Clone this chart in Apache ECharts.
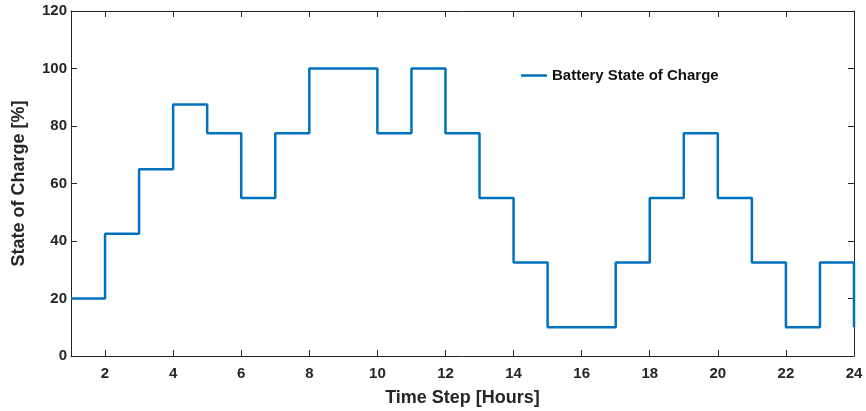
<!DOCTYPE html>
<html>
<head>
<meta charset="utf-8">
<script src="https://cdn.jsdelivr.net/npm/echarts@6/dist/echarts.min.js"></script>
<style>
  html, body { margin: 0; padding: 0; background: #fff; }
  #chart { width: 866px; height: 411px; }
</style>
</head>
<body>
<div id="chart"></div>
<script>
// Hourly battery state of charge, held constant through each hour (stairs)
const hours = [1, 2, 3, 4, 5, 6, 7, 8, 9, 10, 11, 12, 13, 14, 15, 16, 17, 18, 19, 20, 21, 22, 23, 24];
const soc = [20, 42.5, 65, 87.5, 77.5, 55, 77.5, 100, 100, 77.5, 100, 77.5, 55, 32.5, 10, 10, 32.5, 55, 77.5, 55, 32.5, 10, 32.5, 10];
const xTicks = [2, 4, 6, 8, 10, 12, 14, 16, 18, 20, 22, 24];

const ink = '#262626';
const font = '"Liberation Sans", Arial, sans-serif';
const lineBlue = '#0072BD';

const chart = echarts.init(document.getElementById('chart'), null, { renderer: 'canvas' });

const baseX = {
  type: 'value', min: 1, max: 24,
  axisLine: { show: true, onZero: false, lineStyle: { color: ink, width: 1 } },
  axisTick: { show: true, inside: true, length: 6, customValues: xTicks, lineStyle: { color: ink } },
  splitLine: { show: false }
};
const baseY = {
  type: 'value', min: 0, max: 120, interval: 20,
  axisLine: { show: true, onZero: false, lineStyle: { color: ink, width: 1 } },
  axisTick: { show: true, inside: true, length: 6, lineStyle: { color: ink } },
  splitLine: { show: false }
};

chart.setOption({
  animation: false,
  backgroundColor: '#ffffff',
  grid: { left: 71, right: 12, top: 11, bottom: 55, containLabel: false, outerBoundsMode: 'none' },
  legend: {
    data: ['Battery State of Charge'],
    left: 516, top: 63,
    icon: 'rect', itemWidth: 26, itemHeight: 2.5,
    textStyle: { fontFamily: font, fontWeight: 'bold', fontSize: 15, color: '#111' }
  },
  xAxis: [
    Object.assign({}, baseX, {
      position: 'bottom',
      name: 'Time Step [Hours]', nameLocation: 'middle', nameGap: 33,
      nameTextStyle: { fontFamily: font, fontWeight: 'bold', fontSize: 18, color: ink },
      axisLabel: { show: true, customValues: xTicks, margin: 10, fontFamily: font, fontWeight: 'bold', fontSize: 15, color: ink }
    }),
    Object.assign({}, baseX, {
      position: 'top',
      axisLabel: { show: false }
    })
  ],
  yAxis: [
    Object.assign({}, baseY, {
      position: 'left',
      name: 'State of Charge [%]', nameLocation: 'middle', nameGap: 43,
      nameTextStyle: { fontFamily: font, fontWeight: 'bold', fontSize: 18, color: ink },
      axisLabel: { show: true, margin: 4, fontFamily: font, fontWeight: 'bold', fontSize: 15, color: ink }
    }),
    Object.assign({}, baseY, {
      position: 'right',
      axisLabel: { show: false }
    })
  ],
  series: [{
    name: 'Battery State of Charge',
    type: 'line',
    step: 'end',
    xAxisIndex: 0, yAxisIndex: 0,
    data: hours.map((h, i) => [h, soc[i]]),
    symbol: 'none',
    lineStyle: { color: lineBlue, width: 2.5 },
    itemStyle: { color: lineBlue }
  }]
});
</script>
</body>
</html>
